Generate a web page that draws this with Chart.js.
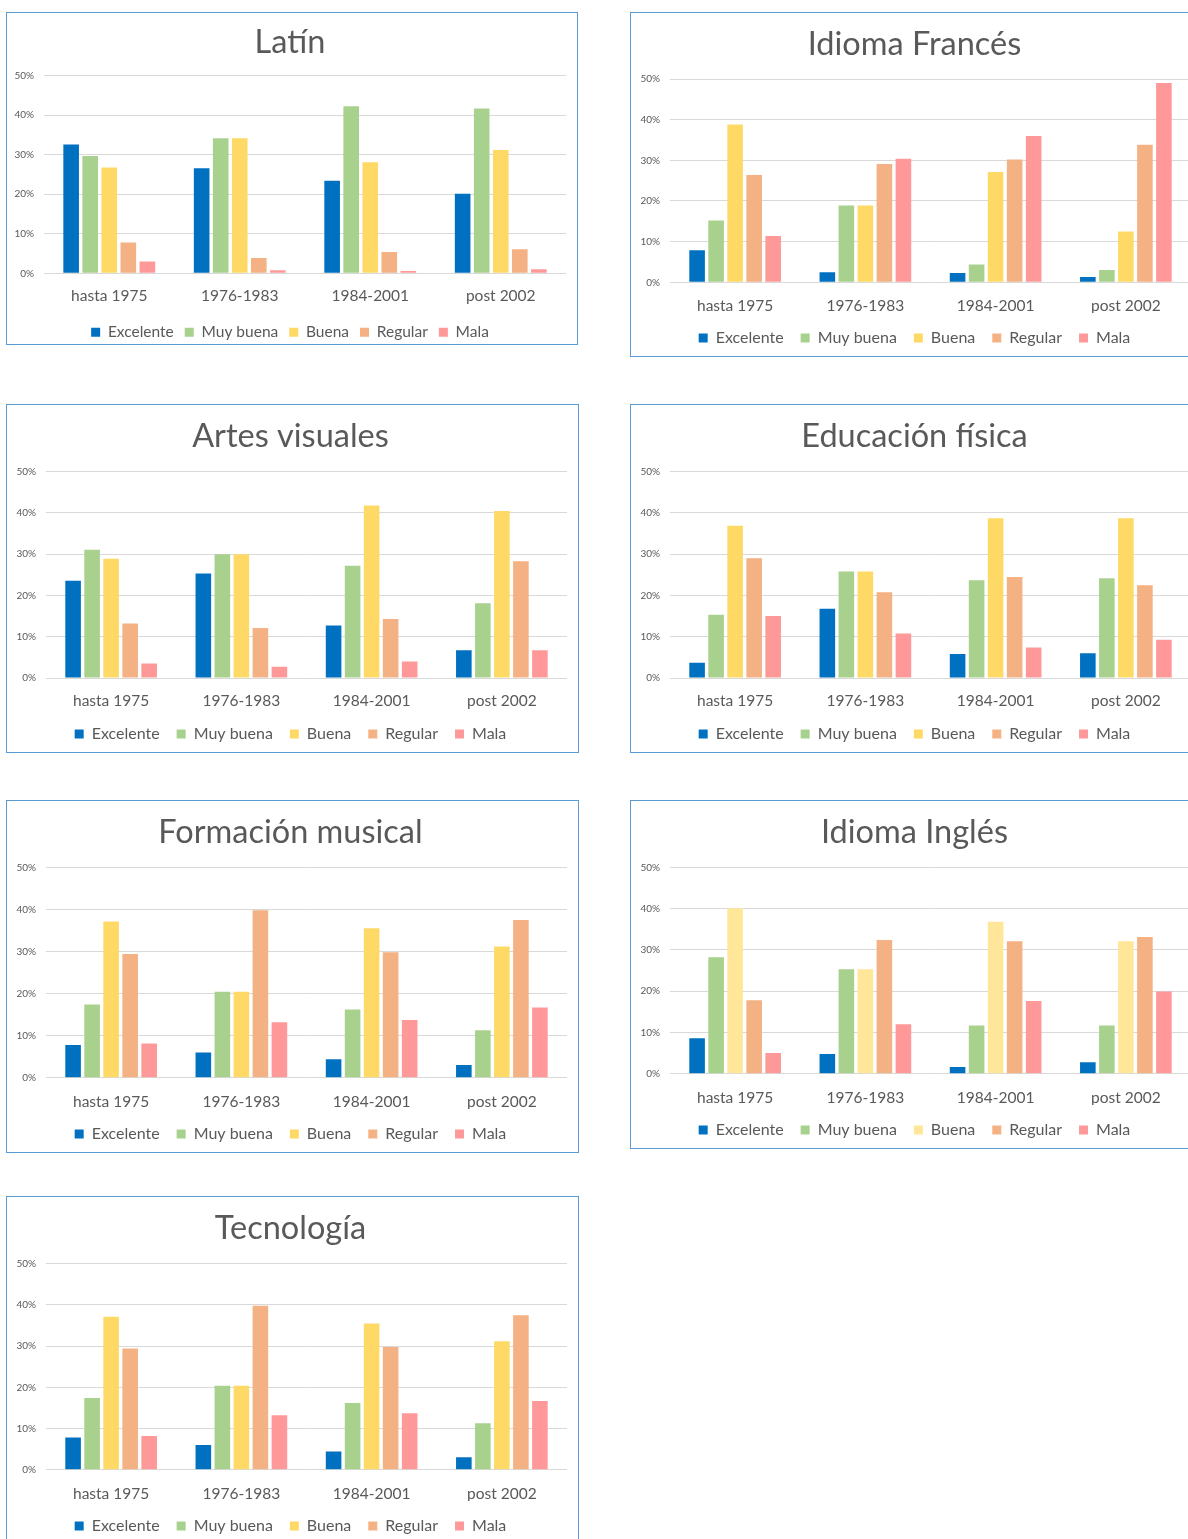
<!DOCTYPE html>
<html>
<head>
<meta charset="utf-8">
<script src="https://cdn.jsdelivr.net/npm/chart.js@4.4.1/dist/chart.umd.min.js"></script>
<style>
  html, body { margin: 0; padding: 0; background: #fff; width: 1188px; height: 1539px; overflow: hidden; position: relative; }
  .panel { position: absolute; border: 1px solid #5B9BD5; box-sizing: border-box; }
  .panel canvas { position: absolute; left: 0; top: 0; }
</style>
</head>
<body>
<script>
// categories and series
const categories = ['hasta 1975', '1976-1983', '1984-2001', 'post 2002'];
const seriesNames = ['Excelente', 'Muy buena', 'Buena', 'Regular', 'Mala'];
const yMax = 50;   // %
const yStep = 10;

// values in %, one row per series (Excelente, Muy buena, Buena, Regular, Mala)
const latin = [
  [32.6, 26.6, 23.4, 20.1],
  [29.7, 34.2, 42.3, 41.7],
  [26.8, 34.2, 28.1, 31.2],
  [7.8, 3.9, 5.4, 6.1],
  [3.0, 0.8, 0.6, 1.0]
];
const frances = [
  [7.9, 2.5, 2.3, 1.3],
  [15.2, 18.9, 4.4, 3.0],
  [38.8, 18.9, 27.1, 12.5],
  [26.4, 29.1, 30.2, 33.8],
  [11.4, 30.4, 36.0, 49.0]
];
const artes = [
  [23.6, 25.3, 12.7, 6.7],
  [31.1, 30.0, 27.2, 18.1],
  [28.9, 30.0, 41.8, 40.5],
  [13.2, 12.1, 14.3, 28.3],
  [3.5, 2.7, 4.0, 6.7]
];
const educacion = [
  [3.7, 16.8, 5.8, 6.0],
  [15.3, 25.8, 23.7, 24.2],
  [36.9, 25.8, 38.7, 38.7],
  [29.0, 20.8, 24.5, 22.5],
  [15.0, 10.8, 7.4, 9.3]
];
const musical = [
  [7.8, 6.0, 4.4, 3.0],
  [17.4, 20.4, 16.2, 11.3],
  [37.1, 20.4, 35.5, 31.2],
  [29.4, 39.8, 29.8, 37.5],
  [8.1, 13.2, 13.7, 16.7]
];
const ingles = [
  [8.6, 4.8, 1.6, 2.8],
  [28.2, 25.3, 11.7, 11.7],
  [40.1, 25.3, 36.8, 32.1],
  [17.8, 32.4, 32.1, 33.1],
  [5.0, 12.0, 17.6, 19.9]
];
const tecnologia = [
  [7.8, 6.0, 4.4, 3.0],
  [17.4, 20.4, 16.2, 11.3],
  [37.1, 20.4, 35.5, 31.2],
  [29.4, 39.8, 29.8, 37.5],
  [8.2, 13.2, 13.7, 16.7]
];

const colors = ['#0070C0', '#A9D18E', '#FFD966', '#F4B183', '#FF9999'];
const colorsIngles = ['#0070C0', '#A9D18E', '#FFE699', '#F4B183', '#FF9999'];

const FONT = 'Lato, "Open Sans", sans-serif';
const TEXT = '#595959';

// page layout: box = [x, y, w, h], plot = [left, top, right, bottom], text centre lines
const panels = [
  { title: 'Latín', data: latin, colors: colors, box: [6, 12, 572, 333], plot: [44, 75.7, 566, 273.3], titleY: 42, catY: 295, legendY: 330, legendSize: 15.5, legendPad: 11 },
  { title: 'Idioma Francés', data: frances, colors: colors, box: [630, 12, 572, 345], plot: [670, 79, 1191, 282.3], titleY: 44, catY: 305, legendY: 336, legendSize: 16, legendPad: 17 },
  { title: 'Artes visuales', data: artes, colors: colors, box: [6, 404, 573, 349], plot: [46, 471.7, 567, 678], titleY: 436, catY: 700, legendY: 732, legendSize: 16, legendPad: 17 },
  { title: 'Educación física', data: educacion, colors: colors, box: [630, 404, 572, 349], plot: [670, 471.7, 1191, 678], titleY: 436, catY: 700, legendY: 732, legendSize: 16, legendPad: 17 },
  { title: 'Formación musical', data: musical, colors: colors, box: [6, 800, 573, 353], plot: [46, 867.3, 567, 1077.7], titleY: 832, catY: 1101, legendY: 1132, legendSize: 16, legendPad: 17 },
  { title: 'Idioma Inglés', data: ingles, colors: colorsIngles, box: [630, 800, 572, 349], plot: [670, 867.3, 1191, 1073.7], titleY: 832, catY: 1097, legendY: 1128, legendSize: 16, legendPad: 17 },
  { title: 'Tecnología', data: tecnologia, colors: colors, box: [6, 1196, 573, 360], plot: [46, 1263.7, 567, 1469.7], titleY: 1228, catY: 1493, legendY: 1524, legendSize: 16, legendPad: 17 }
];

function makeChart(p) {
  const div = document.createElement('div');
  div.className = 'panel';
  div.style.left = p.box[0] + 'px';
  div.style.top = p.box[1] + 'px';
  div.style.width = p.box[2] + 'px';
  div.style.height = p.box[3] + 'px';
  document.body.appendChild(div);

  const inL = p.box[0] + 1, inT = p.box[1] + 1;
  const titleSize = 32.5, catSize = 15.5;
  const titleH = titleSize * 1.2;
  const cw = p.box[2] - 2;
  const ch = Math.round(p.legendY - inT + p.legendSize / 2 + 10 + 2);
  const legendH = p.legendSize + p.legendPad + 10;

  const titleTop = p.titleY - inT - titleH / 2 + 1;
  const titleBottom = (p.plot[1] - inT) - titleTop - titleH;
  const xAxisH = (ch - legendH) - (p.plot[3] - inT);
  const xPad = p.catY - p.plot[3] - catSize * 0.6 + 1;
  const padRight = cw - (p.plot[2] - inL);
  const padLeft = 7;
  const yAxisW = p.plot[0] - inL - padLeft;

  const canvas = document.createElement('canvas');
  canvas.width = cw;
  canvas.height = ch;
  div.appendChild(canvas);

  new Chart(canvas.getContext('2d'), {
    type: 'bar',
    data: {
      labels: categories,
      datasets: seriesNames.map((name, i) => ({
        label: name,
        data: p.data[i],
        backgroundColor: p.colors[i],
        borderWidth: 0,
        categoryPercentage: 0.73,
        barPercentage: 0.82
      }))
    },
    options: {
      responsive: false,
      animation: false,
      layout: { padding: { left: padLeft, right: padRight, top: 0, bottom: 0 } },
      plugins: {
        title: {
          display: true,
          text: p.title,
          color: TEXT,
          font: { family: FONT, size: titleSize, weight: 'normal' },
          padding: { top: titleTop, bottom: titleBottom }
        },
        legend: {
          position: 'bottom',
          labels: {
            color: TEXT,
            boxWidth: 9,
            boxHeight: 9,
            padding: p.legendPad,
            font: { family: FONT, size: p.legendSize }
          }
        },
        tooltip: { enabled: false }
      },
      scales: {
        x: {
          grid: { display: false, drawTicks: false },
          border: { display: false },
          ticks: { color: TEXT, padding: xPad, font: { family: FONT, size: catSize } },
          afterFit: (scale) => { scale.height = xAxisH; }
        },
        y: {
          min: 0,
          max: yMax,
          grid: { color: '#D9D9D9', drawTicks: false },
          border: { display: false },
          ticks: {
            stepSize: yStep,
            color: TEXT,
            padding: 10,
            font: { family: FONT, size: 10 },
            callback: (v) => v + '%'
          },
          afterFit: (scale) => { scale.width = yAxisW; }
        }
      }
    }
  });
}

panels.forEach(makeChart);
</script>
</body>
</html>
